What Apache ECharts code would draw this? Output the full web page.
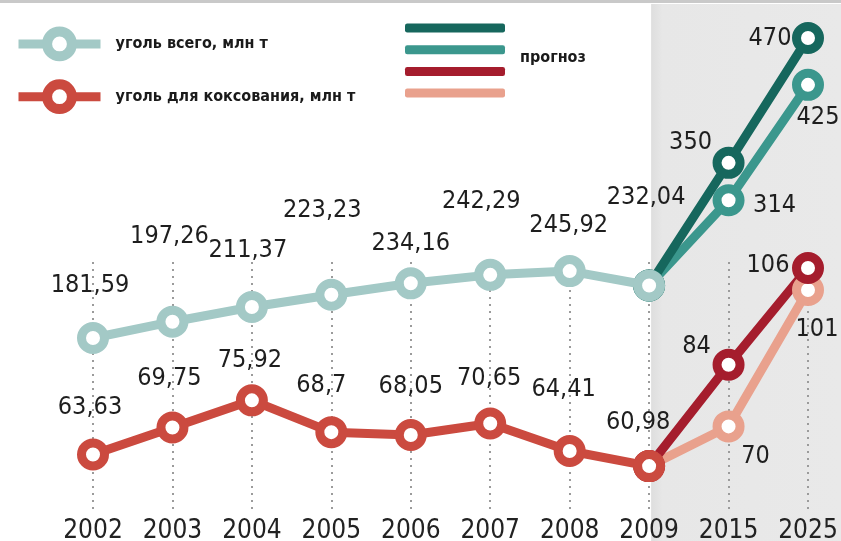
<!DOCTYPE html>
<html><head><meta charset="utf-8">
<script src="https://cdn.jsdelivr.net/npm/echarts@6/dist/echarts.min.js"></script>
<style>html,body{margin:0;padding:0;background:#fff}#c{width:841px;height:541px}</style>
</head><body><div id="c"></div>
<script>
// ---- data ----
const years = ['2002','2003','2004','2005','2006','2007','2008','2009','2015','2025'];
const coalTotal = [181.59,197.26,211.37,223.23,234.16,242.29,245.92,232.04,null,null];
const coalCoking = [63.63,69.75,75.92,68.7,68.05,70.65,64.41,60.98,null,null];
const totalForecastHigh = [null,null,null,null,null,null,null,232.04,350,470];
const totalForecastLow = [null,null,null,null,null,null,null,232.04,314,425];
const cokingForecastHigh = [null,null,null,null,null,null,null,60.98,84,106];
const cokingForecastLow = [null,null,null,null,null,null,null,60.98,70,101];

const nameTotal = 'уголь всего, млн т';
const nameCoking = 'уголь для коксования, млн т';
const forecastLabel = 'прогноз';

// ---- layout (label placement relative to point) ----
const offTotal = [[-3,-53],[-3,-85],[-4,-57],[-9,-84],[0,-40],[-9,-73],[-1,-46],[-3,-88]];
const offCoking = [[-3,-47],[-3,-49],[-2,-40],[-10,-47],[0,-48],[-1,-45],[-6,-62],[-11,-44]];
const offTH = {8:[-38,-20],9:[-38,0]};
const offTL = {8:[46,5],9:[10,33]};
const offCH = {8:[-32,-18],9:[-40,-2]};
const offCL = {8:[27,30],9:[9,40]};

const C = {
  total:'#a3c9c6', coking:'#cb4a3f',
  th:'#16675d', tl:'#3b978d', ch:'#a51d2d', cl:'#e9a18d'
};
const FONT = "'Liberation Sans Narrow','DejaVu Sans Condensed',sans-serif";
const Y0 = {min:14.3, max:254.66};
const Y1 = {min:50.55, max:107.36};
const dotted = {color:'#9b9b9b', width:2, type:[2,5]};

function fmt(p){ return String(p.value).replace('.', ','); }

function mk(name, values, color, yIdx, offs, z, labelFrom){
  const data = values.map((v,i)=>{
    if(v==null) return '-';
    const o = offs[i];
    return {value:v, label:{show: i>=labelFrom && !!o, offset: o||[0,0]}};
  });
  return {
    name, type:'line', data, yAxisIndex:yIdx, z, clip:false,
    symbol:'circle', symbolSize:23, showAllSymbol:true,
    lineStyle:{color, width:9},
    itemStyle:{color:'#fff', borderColor:color, borderWidth:9},
    emphasis:{disabled:true},
    label:{position:'inside', formatter:fmt, fontFamily:FONT, fontSize:25, color:'#1e1e1e'},
    animation:false
  };
}

const chart = echarts.init(document.getElementById('c'), null, {renderer:'canvas'});
const fNames = ['прогноз: всего (высокий)','прогноз: всего (низкий)','прогноз: коксующийся (высокий)','прогноз: коксующийся (низкий)'];

// dotted guides for forecast years, dropped from the upper forecast point
const lowSeries = mk(fNames[1], totalForecastLow, C.tl, 0, offTL, 2, 8);
lowSeries.markLine = {
  silent:true, symbol:'none', animation:false, label:{show:false}, lineStyle:dotted, z:1,
  data:[8,9].map(i=>[{coord:[years[i], totalForecastLow[i]]},{coord:[years[i], Y0.min]}])
};

chart.setOption({
  animation:false,
  backgroundColor:'#fff',
  grid:{left:93, right:33, top:262, bottom:29, outerBoundsMode:'none', containLabel:false},
  xAxis:{type:'category', data:years, boundaryGap:false,
    axisLine:{show:false}, axisTick:{show:false},
    axisLabel:{interval:0, fontFamily:FONT, fontSize:26, color:'#222', margin:4, lineHeight:30},
    splitLine:{show:true, interval:0, lineStyle:dotted}},
  yAxis:[
    {type:'value', min:Y0.min, max:Y0.max, show:false, splitLine:{show:false}},
    {type:'value', min:Y1.min, max:Y1.max, show:false, splitLine:{show:false}}
  ],
  legend:[
    {orient:'vertical', left:14, top:26.5, padding:0, itemWidth:82, itemHeight:31, itemGap:18, selectedMode:false,
     textStyle:{fontFamily:FONT, fontWeight:'bold', fontSize:16, color:'#1a1a1a', padding:[0,0,0,10]},
     data:[
      {name:nameTotal, itemStyle:{color:'#fff', borderColor:C.total, borderWidth:10}, lineStyle:{color:C.total, width:9}},
      {name:nameCoking, itemStyle:{color:'#fff', borderColor:C.coking, borderWidth:10}, lineStyle:{color:C.coking, width:9}}
     ]},
    {orient:'vertical', left:405, top:23.5, padding:0, itemWidth:100, itemHeight:9, itemGap:12.7, selectedMode:false, icon:'roundRect',
     formatter:()=> '',
     data:[
      {name:fNames[0], itemStyle:{color:C.th, borderWidth:0}},
      {name:fNames[1], itemStyle:{color:C.tl, borderWidth:0}},
      {name:fNames[2], itemStyle:{color:C.ch, borderWidth:0}},
      {name:fNames[3], itemStyle:{color:C.cl, borderWidth:0}}
     ]}
  ],
  series:[
    lowSeries,
    mk(fNames[0], totalForecastHigh, C.th, 0, offTH, 2, 8),
    mk(fNames[3], cokingForecastLow, C.cl, 1, offCL, 2, 8),
    mk(fNames[2], cokingForecastHigh, C.ch, 1, offCH, 2, 8),
    mk(nameTotal, coalTotal, C.total, 0, offTotal, 3, 0),
    mk(nameCoking, coalCoking, C.coking, 1, offCoking, 3, 0)
  ]
});

const x09 = chart.convertToPixel({xAxisIndex:0}, '2009');
const W = chart.getWidth(), H = chart.getHeight();
chart.setOption({graphic:[
  {type:'rect', z:-10, silent:true, shape:{x:x09+2, y:4, width:W-x09-2, height:H-4},
   style:{fill:new echarts.graphic.LinearGradient(0,0,1,0,[{offset:0,color:'#dedede'},{offset:0.06,color:'#e7e7e7'},{offset:1,color:'#e9e9e9'}])}},
  {type:'rect', z:-10, silent:true, shape:{x:0, y:0, width:W, height:3}, style:{fill:'#c9c9c9'}},
  {type:'text', left:520, top:50, silent:true,
   style:{text:forecastLabel, fontFamily:FONT, fontWeight:'bold', fontSize:16, fill:'#1a1a1a'}}
]});
</script>
</body></html>
